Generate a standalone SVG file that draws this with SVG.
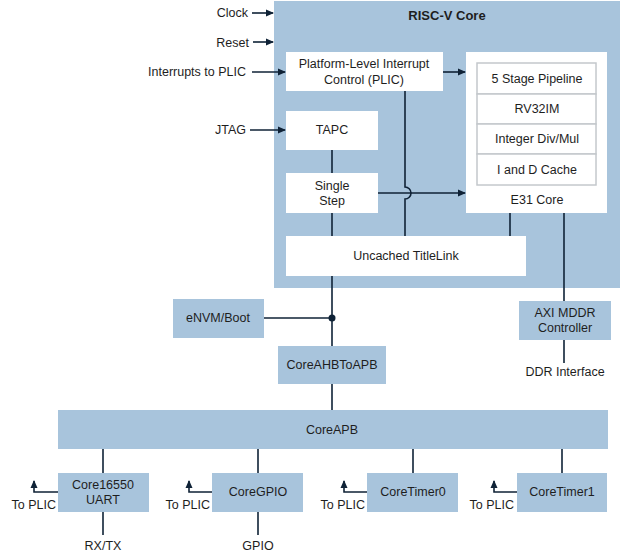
<svg xmlns="http://www.w3.org/2000/svg" width="620" height="560" viewBox="0 0 620 560">
<defs>
<style>
text{font-family:"Liberation Sans",Arial,sans-serif;font-size:12.5px;fill:#1e1e1e;text-anchor:middle;dominant-baseline:central}
.l{text-anchor:end}
.blue{fill:#a8c4dc}
.white{fill:#ffffff}
.cell{fill:#ffffff;stroke:#c4c8cc;stroke-width:1.5}
.w{stroke:#0f2236;stroke-width:1.6;fill:none}
</style>
<marker id="ah" markerWidth="8" markerHeight="8" refX="7" refY="4" orient="auto" markerUnits="userSpaceOnUse">
<path d="M0,0.5 L8,4 L0,7.5 Z" fill="#0f2236"/>
</marker>
</defs>
<rect width="620" height="560" fill="#ffffff"/>
<g id="riscv-core">
<rect class="blue" x="274" y="1" width="346" height="287"/>
<text x="447" y="15" style="font-weight:bold;font-size:13px">RISC-V Core</text>
</g>
<g id="plic">
<rect class="white" x="286" y="52" width="157" height="39"/>
<text x="364" y="64">Platform-Level Interrupt</text>
<text x="364" y="80">Control (PLIC)</text>
</g>
<g id="e31">
<rect class="white" x="466" y="52" width="141" height="161"/>
<rect class="cell" x="477" y="63" width="119" height="31"/>
<rect class="cell" x="477" y="94" width="119" height="30"/>
<rect class="cell" x="477" y="124" width="119" height="30"/>
<rect class="cell" x="477" y="154" width="119" height="31"/>
<text x="537" y="79">5 Stage Pipeline</text>
<text x="537" y="109">RV32IM</text>
<text x="537" y="139">Integer Div/Mul</text>
<text x="537" y="170">I and D Cache</text>
<text x="537" y="200">E31 Core</text>
</g>
<g id="tapc">
<rect class="white" x="286" y="111" width="92" height="39"/>
<text x="332" y="130">TAPC</text>
</g>
<g id="single-step">
<rect class="white" x="286" y="173" width="92" height="40"/>
<text x="332" y="186">Single</text>
<text x="332" y="201">Step</text>
</g>
<g id="uncached">
<rect class="white" x="286" y="236" width="240" height="40"/>
<text x="406" y="256">Uncached TitleLink</text>
</g>
<g id="envm">
<rect class="blue" x="173" y="299" width="91" height="39"/>
<text x="218" y="318">eNVM/Boot</text>
</g>
<g id="ahb2apb">
<rect class="blue" x="278" y="346" width="108" height="38"/>
<text x="332" y="365">CoreAHBToAPB</text>
</g>
<g id="axi">
<rect class="blue" x="519" y="301" width="92" height="39"/>
<text x="565" y="313">AXI MDDR</text>
<text x="565" y="328">Controller</text>
</g>
<g id="coreapb">
<rect class="blue" x="58" y="410" width="550" height="39"/>
<text x="332" y="430">CoreAPB</text>
</g>
<g id="uart">
<rect class="blue" x="58" y="473" width="91" height="39"/>
<text x="103" y="485">Core16550</text>
<text x="103" y="500">UART</text>
</g>
<g id="gpio">
<rect class="blue" x="212" y="473" width="91" height="39"/>
<text x="258" y="492">CoreGPIO</text>
</g>
<g id="timer0">
<rect class="blue" x="367" y="473" width="91" height="39"/>
<text x="413" y="492">CoreTimer0</text>
</g>
<g id="timer1">
<rect class="blue" x="517" y="473" width="90" height="39"/>
<text x="562" y="492">CoreTimer1</text>
</g>
<g id="labels">
<text class="l" x="248" y="13">Clock</text>
<text class="l" x="249" y="43">Reset</text>
<text class="l" x="246" y="72">Interrupts to PLIC</text>
<text class="l" x="246" y="130">JTAG</text>
<text x="565" y="372">DDR Interface</text>
<text class="l" x="56" y="505">To PLIC</text>
<text class="l" x="210" y="505">To PLIC</text>
<text class="l" x="365" y="505">To PLIC</text>
<text class="l" x="514" y="505">To PLIC</text>
<text x="103" y="546">RX/TX</text>
<text x="258" y="546">GPIO</text>
</g>
<g id="connectors">
<line class="w" x1="252" y1="13" x2="273" y2="13" marker-end="url(#ah)"/>
<line class="w" x1="253" y1="42" x2="273" y2="42" marker-end="url(#ah)"/>
<line class="w" x1="252" y1="72" x2="285" y2="72" marker-end="url(#ah)"/>
<line class="w" x1="250" y1="130" x2="285" y2="130" marker-end="url(#ah)"/>
<line class="w" x1="443" y1="72" x2="465" y2="72" marker-end="url(#ah)"/>
<line class="w" x1="332" y1="150" x2="332" y2="173"/>
<line class="w" x1="332" y1="213" x2="332" y2="236"/>
<path class="w" d="M405,91 V187 A6,6 0 0 1 405,199 V236"/>
<line class="w" x1="378" y1="193" x2="465" y2="193" marker-end="url(#ah)"/>
<line class="w" x1="510" y1="213" x2="510" y2="236"/>
<line class="w" x1="564" y1="213" x2="564" y2="301"/>
<line class="w" x1="564" y1="340" x2="564" y2="363"/>
<line class="w" x1="332" y1="276" x2="332" y2="346"/>
<line class="w" x1="264" y1="318" x2="332" y2="318"/>
<circle cx="332" cy="318" r="3.5" fill="#0f2236"/>
<line class="w" x1="332" y1="384" x2="332" y2="410"/>
<line class="w" x1="103" y1="449" x2="103" y2="473"/>
<line class="w" x1="258" y1="449" x2="258" y2="473"/>
<line class="w" x1="413" y1="449" x2="413" y2="473"/>
<line class="w" x1="562" y1="449" x2="562" y2="473"/>
<line class="w" x1="103" y1="512" x2="103" y2="535"/>
<line class="w" x1="258" y1="512" x2="258" y2="535"/>
<path class="w" d="M58,492 H34 V481" marker-end="url(#ah)"/>
<path class="w" d="M212,492 H189 V481" marker-end="url(#ah)"/>
<path class="w" d="M367,492 H344 V481" marker-end="url(#ah)"/>
<path class="w" d="M517,492 H494 V481" marker-end="url(#ah)"/>
</g>
</svg>
